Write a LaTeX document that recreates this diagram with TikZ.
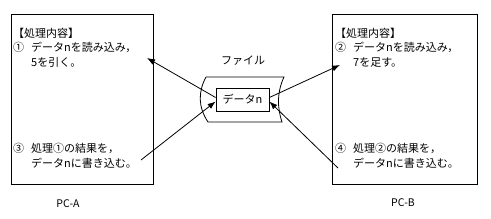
\documentclass[tikz,border=0pt]{standalone}
\usepackage{fontspec}
\setmainfont{Noto Sans CJK JP}
\usetikzlibrary{arrows.meta}

\begin{document}
\begin{tikzpicture}[x=1pt, y=-1pt,
  pc/.style={draw, line width=0.9pt, minimum width=142pt, minimum height=170pt},
  txt/.style={anchor=west, inner sep=0pt, font=\fontsize{11}{14.5}\selectfont},
  lab/.style={inner sep=0pt, font=\fontsize{10.5}{12}\selectfont},
  data/.style={draw, line width=0.8pt, minimum width=53pt, minimum height=23pt, inner sep=0pt, font=\fontsize{11}{13}\selectfont},
  arr/.style={-{Latex[length=8pt, width=6pt]}, line width=0.8pt}]
  \useasboundingbox (0,0) rectangle (491,219);
  % PC-A
  \node[pc] (pcA) at (82,99.5) {};
  \node[lab] (nameA) at (68,204) {PC-A};
  \node[txt] (stepA) at (13,49) {\begin{tabular}{@{}l@{\hspace{7pt}}l@{}}
    \multicolumn{2}{@{}l@{}}{【処理内容】}\\
    ① & データnを読み込み，\\
      & 5を引く。\end{tabular}};
  \node[txt] (writeA) at (13,157) {\begin{tabular}{@{}l@{\hspace{7pt}}l@{}}
    ③ & 処理①の結果を，\\
      & データnに書き込む。\end{tabular}};
  % PC-B
  \node[pc, minimum width=145pt] (pcB) at (404.5,99) {};
  \node[lab] (nameB) at (403,203) {PC-B};
  \node[txt] (stepB) at (335,49) {\begin{tabular}{@{}l@{\hspace{7pt}}l@{}}
    \multicolumn{2}{@{}l@{}}{【処理内容】}\\
    ② & データnを読み込み，\\
      & 7を足す。\end{tabular}};
  \node[txt] (writeB) at (335,157) {\begin{tabular}{@{}l@{\hspace{7pt}}l@{}}
    ④ & 処理②の結果を，\\
      & データnに書き込む。\end{tabular}};
  % file
  \draw[line width=0.8pt] (206,77) -- (284,77) .. controls (277,92) and (277,107) .. (282,122)
    -- (208,122) .. controls (198,107) and (198,92) .. (206,77);
  \node[font=\fontsize{11}{13}\selectfont, inner sep=0pt] (file) at (243,61) {ファイル};
  \node[data] (dat) at (242.5,99.5) {データn};
  % read / write
  \coordinate (inA) at (147,58);
  \coordinate (outA) at (141,160);
  \coordinate (inB) at (340,65);
  \coordinate (outB) at (338,168);
  \draw[arr] ([yshift=2pt]dat.west) -- (inA);
  \draw[arr] (outA) -- ([yshift=-2pt]dat.west);
  \draw[arr] ([yshift=2pt]dat.east) -- (inB);
  \draw[arr] (outB) -- ([yshift=-2pt]dat.east);
\end{tikzpicture}
\end{document}
